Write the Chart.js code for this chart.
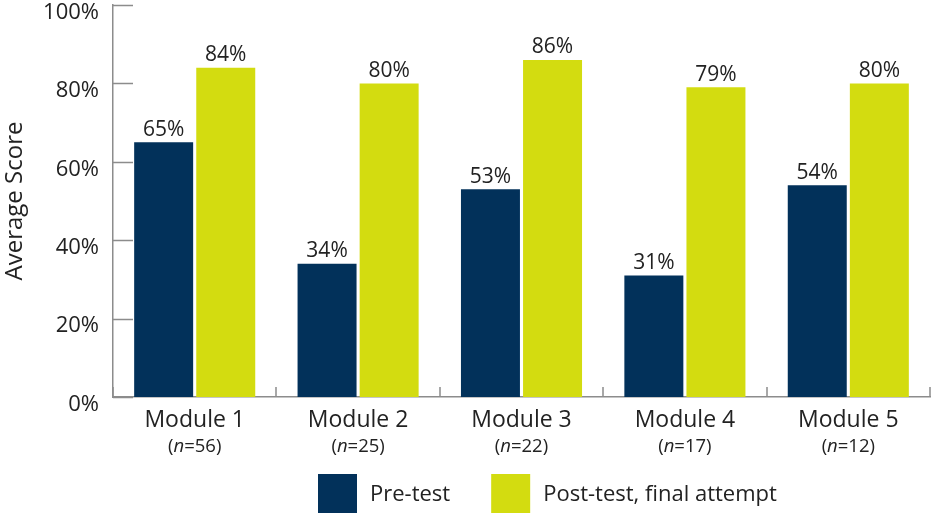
<!DOCTYPE html>
<html>
<head>
<meta charset="utf-8">
<title>Average Score by Module</title>
<script src="https://cdn.jsdelivr.net/npm/chart.js@4.4.1/dist/chart.umd.min.js"></script>
<style>
  html, body { margin: 0; padding: 0; background: #fff; }
  #wrap { width: 931px; height: 515px; }
</style>
</head>
<body>
<div id="wrap"><canvas id="scoreChart" width="931" height="515"></canvas></div>
<script>
/* global Chart */

// Datos
const categories = ['Module 1', 'Module 2', 'Module 3', 'Module 4', 'Module 5'];
const sampleSizes = [56, 25, 22, 17, 12];
const preTest = [65, 34, 53, 31, 54];
const postTest = [84, 80, 86, 79, 80];
const seriesNames = ['Pre-test', 'Post-test, final attempt'];

const NAVY = '#02315a';
const LIME = '#d3dc10';
const TEXT = '#222222';
const AXIS = '#8c8c8c';
const FONT = "'Open Sans', sans-serif";

Chart.defaults.font.family = FONT;
Chart.defaults.color = TEXT;

// Marcas de eje hacia dentro (y) y hacia arriba (x)
const axisTicks = {
    id: 'axisTicks',
    afterDraw(chart) {
        const {ctx, chartArea} = chart;
        const x = chart.scales.x;
        const y = chart.scales.y;
        ctx.save();
        ctx.strokeStyle = AXIS;
        ctx.lineWidth = 1.5;
        ctx.beginPath();
        y.ticks.forEach(t => {
            const py = Math.round(y.getPixelForValue(t.value)) + 0.5;
            ctx.moveTo(chartArea.left, py);
            ctx.lineTo(chartArea.left + 20, py);
        });
        for (let i = 0; i <= categories.length; i++) {
            const px = Math.round(x.getPixelForValue(i - 0.5));
            ctx.moveTo(px, chartArea.bottom);
            ctx.lineTo(px, chartArea.bottom - 10);
        }
        ctx.stroke();
        ctx.restore();
    }
};

// Etiquetas de valor encima de cada barra
const barValues = {
    id: 'barValues',
    afterDatasetsDraw(chart) {
        const {ctx} = chart;
        ctx.save();
        ctx.font = '21px ' + FONT;
        ctx.fillStyle = TEXT;
        ctx.textAlign = 'center';
        ctx.textBaseline = 'bottom';
        chart.data.datasets.forEach((ds, di) => {
            chart.getDatasetMeta(di).data.forEach((bar, i) => {
                ctx.fillText(ds.data[i] + '%', bar.x, bar.y - 2);
            });
        });
        ctx.restore();
    }
};

// Segunda linea de la etiqueta: (n=56) con la n en cursiva
const sampleLabels = {
    id: 'sampleLabels',
    afterDraw(chart) {
        const {ctx, chartArea} = chart;
        const x = chart.scales.x;
        const normal = '18.5px ' + FONT;
        const italic = 'italic 18.5px ' + FONT;
        ctx.save();
        ctx.fillStyle = TEXT;
        ctx.textBaseline = 'middle';
        ctx.textAlign = 'left';
        const py = chartArea.bottom + 50;
        sampleSizes.forEach((n, i) => {
            const parts = [['(', normal], ['n', italic], ['=' + n + ')', normal]];
            let w = 0;
            parts.forEach(p => { ctx.font = p[1]; w += ctx.measureText(p[0]).width; });
            let px = x.getPixelForValue(i) - w / 2;
            parts.forEach(p => {
                ctx.font = p[1];
                ctx.fillText(p[0], px, py);
                px += ctx.measureText(p[0]).width;
            });
        });
        ctx.restore();
    }
};

// Leyenda dibujada a mano con cuadros grandes
const bigLegend = {
    id: 'bigLegend',
    afterDraw(chart) {
        const {ctx} = chart;
        const box = 39;
        let px = 318;
        const top = 474;
        ctx.save();
        ctx.font = '22px ' + FONT;
        ctx.textBaseline = 'middle';
        ctx.textAlign = 'left';
        chart.data.datasets.forEach(ds => {
            ctx.fillStyle = ds.backgroundColor;
            ctx.fillRect(px, top, box, box);
            px += box + 13;
            ctx.fillStyle = TEXT;
            ctx.fillText(ds.label, px, top + box / 2 + 1);
            px += ctx.measureText(ds.label).width + 41;
        });
        ctx.restore();
    }
};

const ctx = document.getElementById('scoreChart').getContext('2d');
const scoreChart = new Chart(ctx, {
    type: 'bar',
    data: {
        labels: categories,
        datasets: [
            { label: seriesNames[0], data: preTest, backgroundColor: NAVY },
            { label: seriesNames[1], data: postTest, backgroundColor: LIME }
        ]
    },
    options: {
        responsive: false,
        animation: false,
        devicePixelRatio: 1,
        layout: { padding: { top: 5, right: 1, bottom: 0, left: 0 } },
        datasets: {
            bar: { categoryPercentage: 0.76, barPercentage: 0.95 }
        },
        plugins: {
            legend: { display: false },
            tooltip: { enabled: false }
        },
        scales: {
            x: {
                grid: { display: false, drawTicks: false },
                border: { display: true, color: AXIS, width: 1.5 },
                ticks: { font: { size: 23 }, color: TEXT, padding: 10 },
                afterFit(scale) {
                    scale.height = 118;
                    scale.paddingLeft = 0;
                    scale.paddingRight = 0;
                }
            },
            y: {
                min: 0,
                max: 100,
                grid: { display: false, drawTicks: false },
                border: { display: true, color: AXIS, width: 1.5 },
                ticks: {
                    stepSize: 20,
                    font: { size: 22 },
                    color: TEXT,
                    padding: 14,
                    labelOffset: 7.5,
                    callback: v => v + '%'
                },
                title: {
                    display: true,
                    text: 'Average Score',
                    font: { size: 24 },
                    color: TEXT,
                    padding: { top: 1, bottom: 0 }
                },
                afterFit(scale) {
                    scale.width = 113;
                    scale.paddingTop = 0;
                    scale.paddingBottom = 0;
                }
            }
        }
    },
    plugins: [axisTicks, barValues, sampleLabels, bigLegend]
});
</script>
</body>
</html>
